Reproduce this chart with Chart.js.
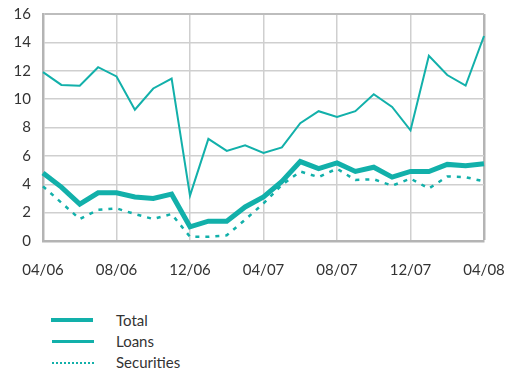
<!DOCTYPE html>
<html>
<head>
<meta charset="utf-8">
<script src="https://cdn.jsdelivr.net/npm/chart.js@4"></script>
<style>
  body { margin: 0; background: #fff; font-family: Lato, "DejaVu Sans", sans-serif; color: #333; }
  #wrap { position: relative; width: 513px; height: 290px; }
  #legend { position: absolute; left: 0; top: 308px; width: 513px; }
  .row { position: absolute; left: 0; height: 20px; width: 300px; }
  .swatch { position: absolute; left: 52px; width: 42px; top: 10px; }
  .lbl { position: absolute; left: 116px; top: 0; font-size: 15px; line-height: 20px; }
</style>
</head>
<body>
<div id="wrap"><canvas id="myChart"></canvas></div>
<div id="legend">
  <div class="row" style="top:2px"><div class="swatch" style="border-top:4px solid #12b0aa; margin-top:-2px; left:51px"></div><div class="lbl">Total</div></div>
  <div class="row" style="top:23px"><div class="swatch" style="border-top:3px solid #12b0aa; margin-top:-1px"></div><div class="lbl">Loans</div></div>
  <div class="row" style="top:44px"><div class="swatch" style="border-top:2px dotted #12b0aa"></div><div class="lbl">Securities</div></div>
</div>
<script>
const months = ['04/06','05/06','06/06','07/06','08/06','09/06','10/06','11/06','12/06','01/07','02/07','03/07',
                '04/07','05/07','06/07','07/07','08/07','09/07','10/07','11/07','12/07','01/08','02/08','03/08','04/08'];

const total = [4.8, 3.8, 2.6, 3.4, 3.4, 3.1, 3.0, 3.3, 1.0, 1.4, 1.4, 2.4,
               3.1, 4.2, 5.6, 5.1, 5.5, 4.9, 5.2, 4.5, 4.9, 4.9, 5.4, 5.3, 5.45];
const loans = [11.9, 11.0, 10.95, 12.25, 11.6, 9.25, 10.75, 11.45, 3.2, 7.2, 6.35, 6.75,
               6.2, 6.6, 8.3, 9.15, 8.75, 9.15, 10.35, 9.45, 7.8, 13.05, 11.7, 10.95, 14.45];
const securities = [3.85, 2.7, 1.55, 2.2, 2.3, 1.9, 1.55, 1.9, 0.3, 0.3, 0.4, 1.5,
                    2.65, 3.95, 4.9, 4.5, 5.1, 4.3, 4.35, 3.9, 4.4, 3.7, 4.55, 4.5, 4.2];

const yTicks = [0, 2, 4, 6, 8, 10, 12, 14, 16];

const teal = '#12b0aa';
const tickFont = { family: 'Lato, "DejaVu Sans", sans-serif', size: 15 };

const ctx = document.getElementById('myChart');

new Chart(ctx, {
  type: 'line',
  data: {
    labels: months,
    datasets: [
      { label: 'Total', data: total, borderColor: teal, borderWidth: 5, pointRadius: 0, tension: 0 },
      { label: 'Loans', data: loans, borderColor: teal, borderWidth: 2, pointRadius: 0, tension: 0 },
      { label: 'Securities', data: securities, borderColor: teal, borderWidth: 2.5, borderDash: [4, 6], pointRadius: 0, tension: 0 }
    ]
  },
  options: {
    responsive: true,
    maintainAspectRatio: false,
    animation: false,
    layout: { padding: { top: 14, right: 29, left: 0, bottom: 0 } },
    plugins: { legend: { display: false }, tooltip: { enabled: false } },
    scales: {
      x: {
        // fixed axis height, and no extra room for the end labels
        afterFit: s => { s.height = 49; s.paddingLeft = 0; s.paddingRight = 0; },
        grid: {
          color: c => c.index % 4 === 0 ? (c.index === 24 ? '#b4b4b4' : '#cfcfcf') : 'transparent',
          lineWidth: c => c.index === 24 ? 2.5 : 1.5,
          drawTicks: false
        },
        border: { color: '#b4b4b4', width: 2.5 },
        ticks: {
          autoSkip: false, maxRotation: 0, padding: 20, color: '#333', font: tickFont,
          callback: (v, i) => i % 4 === 0 ? months[i] : ''
        }
      },
      y: {
        min: 0, max: 16,
        afterFit: s => { s.width = 43; s.paddingTop = 0; s.paddingBottom = 0; },
        afterBuildTicks: s => { s.ticks = yTicks.map(v => ({ value: v })); },
        grid: {
          color: c => c.index === 8 ? '#bdbdbd' : '#cfcfcf',
          lineWidth: c => c.index === 8 ? 2 : 1.5,
          drawTicks: false
        },
        border: { color: '#b4b4b4', width: 2.5 },
        ticks: { padding: 12, color: '#333', font: tickFont }
      }
    }
  }
});
</script>
</body>
</html>
